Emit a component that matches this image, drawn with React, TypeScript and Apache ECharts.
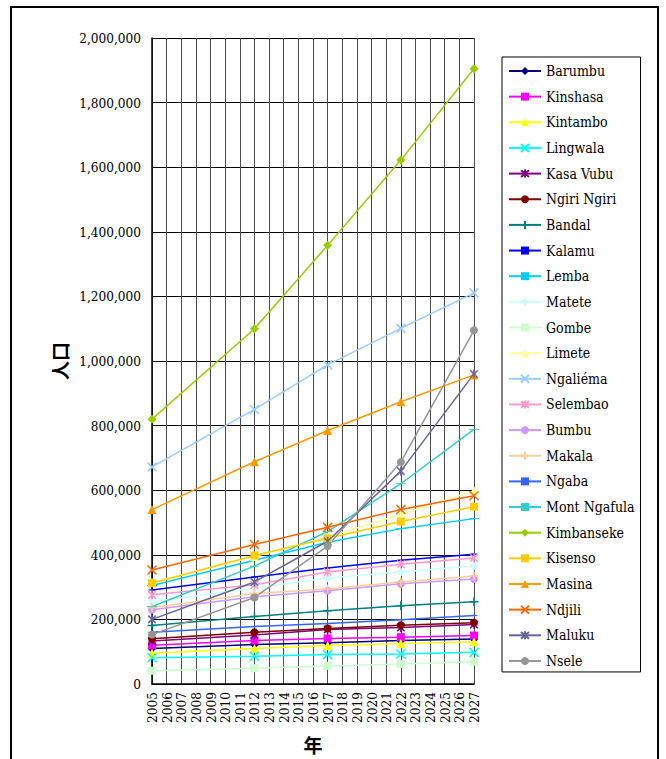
import React, { useEffect, useRef } from "react";
import * as echarts from "echarts";

// Year axis and the census / projection years that carry values
const years: string[] = Array.from({ length: 23 }, (_, i) => String(2005 + i));
const sampleYears: number[] = [2005, 2012, 2017, 2022, 2027];

// Commune names, in legend order
const communes: string[] = [
  "Barumbu", "Kinshasa", "Kintambo", "Lingwala", "Kasa Vubu", "Ngiri Ngiri",
  "Bandal", "Kalamu", "Lemba", "Matete", "Gombe", "Limete",
  "Ngaliéma", "Selembao", "Bumbu", "Makala", "Ngaba", "Mont Ngafula",
  "Kimbanseke", "Kisenso", "Masina", "Ndjili", "Maluku", "Nsele",
];

// Population for each commune at 2005, 2012, 2017, 2022, 2027
const barumbu = [110000, 122000, 128000, 135000, 139000];
const kinshasa = [120000, 135000, 141000, 145000, 150000];
const kintambo = [95000, 110000, 119000, 125000, 131000];
const lingwala = [81000, 86000, 91000, 93000, 98000];
const kasaVubu = [133000, 152000, 169000, 175000, 184000];
const ngiriNgiri = [140000, 160000, 172000, 182000, 190000];
const bandal = [181000, 209000, 227000, 242000, 255000];
const kalamu = [291000, 331000, 359000, 383000, 402000];
const lemba = [305000, 383000, 439000, 481000, 512000];
const matete = [255000, 297000, 328000, 347000, 365000];
const gombe = [41000, 49000, 56000, 62000, 69000];
const limete = [315000, 395000, 455000, 525000, 598000];
const ngaliema = [672000, 850000, 988000, 1101000, 1211000];
const selembao = [276000, 307000, 347000, 371000, 390000];
const bumbu = [230000, 270000, 289000, 310000, 325000];
const makala = [236000, 280000, 294000, 316000, 334000];
const ngaba = [160000, 178000, 187000, 199000, 212000];
const montNgafula = [240000, 365000, 472000, 620000, 788000];
const kimbanseke = [820000, 1100000, 1358000, 1622000, 1905000];
const kisenso = [312000, 398000, 451000, 503000, 549000];
const masina = [540000, 688000, 785000, 874000, 957000];
const ndjili = [353000, 432000, 485000, 540000, 583000];
const maluku = [200000, 316000, 442000, 659000, 960000];
const nsele = [153000, 268000, 427000, 687000, 1095000];

const values: number[][] = [
  barumbu, kinshasa, kintambo, lingwala, kasaVubu, ngiriNgiri,
  bandal, kalamu, lemba, matete, gombe, limete,
  ngaliema, selembao, bumbu, makala, ngaba, montNgafula,
  kimbanseke, kisenso, masina, ndjili, maluku, nsele,
];

const colors: string[] = [
  "#000080", "#FF00FF", "#FFFF00", "#00FFFF", "#800080", "#800000",
  "#008080", "#0000FF", "#00CCFF", "#CCFFFF", "#CCFFCC", "#FFFF99",
  "#99CCFF", "#FF99CC", "#CC99FF", "#FFCC99", "#3366FF", "#33CCCC",
  "#99CC00", "#FFCC00", "#FF9900", "#FF6600", "#666699", "#969696",
];

// Marker shapes cycle through the classic spreadsheet set
type Marker = { symbol: string; size: number | number[]; stroke: boolean };
const markerCycle: Marker[] = [
  { symbol: "diamond", size: 9, stroke: false },
  { symbol: "rect", size: 8, stroke: false },
  { symbol: "triangle", size: 9, stroke: false },
  { symbol: "path://M0,0L10,10M0,10L10,0", size: 9, stroke: true },
  { symbol: "path://M0,0L10,10M0,10L10,0M5,-1L5,11", size: 9, stroke: true },
  { symbol: "circle", size: 8, stroke: false },
  { symbol: "path://M5,0L5,10M0,5L10,5", size: 9, stroke: true },
  { symbol: "path://M0,0L8,0L8,3L0,3Z", size: [7, 3], stroke: false },
  { symbol: "path://M0,0L10,0L10,3L0,3Z", size: [10, 3], stroke: false },
];

function toSeriesData(vals: number[]): (number | null)[] {
  return years.map((y) => {
    const idx = sampleYears.indexOf(Number(y));
    return idx >= 0 ? vals[idx] : null;
  });
}

const serif = "DejaVu Serif Condensed";
const cjk = "Noto Sans CJK JP";

export default function App() {
  const ref = useRef<HTMLDivElement>(null);

  useEffect(() => {
    if (!ref.current) return;
    const chart = echarts.init(ref.current, null, { renderer: "svg" });

    const series = communes.map((name, i) => {
      const m = markerCycle[i % markerCycle.length];
      return {
        name,
        type: "line",
        data: toSeriesData(values[i]),
        connectNulls: true,
        showSymbol: true,
        showAllSymbol: true,
        symbol: m.symbol,
        symbolSize: m.size,
        symbolKeepAspect: true,
        lineStyle: { color: colors[i], width: 1.5 },
        itemStyle: m.stroke
          ? { color: colors[i], borderColor: colors[i], borderWidth: 1.5 }
          : { color: colors[i], borderWidth: 0 },
        emphasis: { disabled: true },
      };
    });

    chart.setOption({
      animation: false,
      backgroundColor: "#ffffff",
      color: colors,
      textStyle: { fontFamily: serif },
      grid: { left: 152, right: 192, top: 38, bottom: 69, containLabel: false },
      graphic: [
        {
          type: "rect",
          shape: { x: 11, y: 7, width: 647, height: 800 },
          style: { fill: "none", stroke: "#000", lineWidth: 2 },
          silent: true,
        },
      ],
      legend: {
        orient: "vertical",
        left: 502,
        top: 57,
        itemWidth: 32,
        itemHeight: 10,
        itemGap: 11.65,
        itemTextGap: 5,
        padding: [7, 6, 4, 6],
        borderColor: "#000",
        borderWidth: 1,
        data: communes,
        textStyle: { fontFamily: serif, fontSize: 14, color: "#000" },
      },
      xAxis: {
        type: "category",
        data: years,
        boundaryGap: false,
        name: "年",
        nameLocation: "middle",
        nameGap: 51,
        nameMoveOverlap: false,
        nameTextStyle: { fontFamily: cjk, fontSize: 19, fontWeight: "bold", color: "#000" },
        axisLine: { lineStyle: { color: "#000", width: 1.5 } },
        axisTick: { show: false },
        axisLabel: {
          rotate: 90,
          interval: 0,
          margin: 8,
          fontFamily: serif,
          fontSize: 13.5,
          color: "#000",
        },
        splitLine: { show: true, interval: 0, lineStyle: { color: "#4d4d4d", width: 1 } },
      },
      yAxis: {
        type: "value",
        min: 0,
        max: 2000000,
        interval: 200000,
        name: "人口",
        nameLocation: "middle",
        nameRotate: 90,
        nameGap: 83,
        nameTextStyle: { fontFamily: cjk, fontSize: 19, fontWeight: "bold", color: "#000" },
        axisLine: { show: true, lineStyle: { color: "#000", width: 1.5 } },
        axisTick: { show: false },
        axisLabel: {
          margin: 11,
          fontFamily: serif,
          fontSize: 13.5,
          color: "#000",
          formatter: (v: number) => v.toLocaleString("en-US"),
        },
        splitLine: { show: true, lineStyle: { color: "#000", width: 1 } },
      },
      series,
    });

    return () => chart.dispose();
  }, []);

  return (
    <div
      ref={ref}
      style={{ position: "fixed", left: 0, top: 0, width: 666, height: 759, background: "#fff" }}
    />
  );
}
